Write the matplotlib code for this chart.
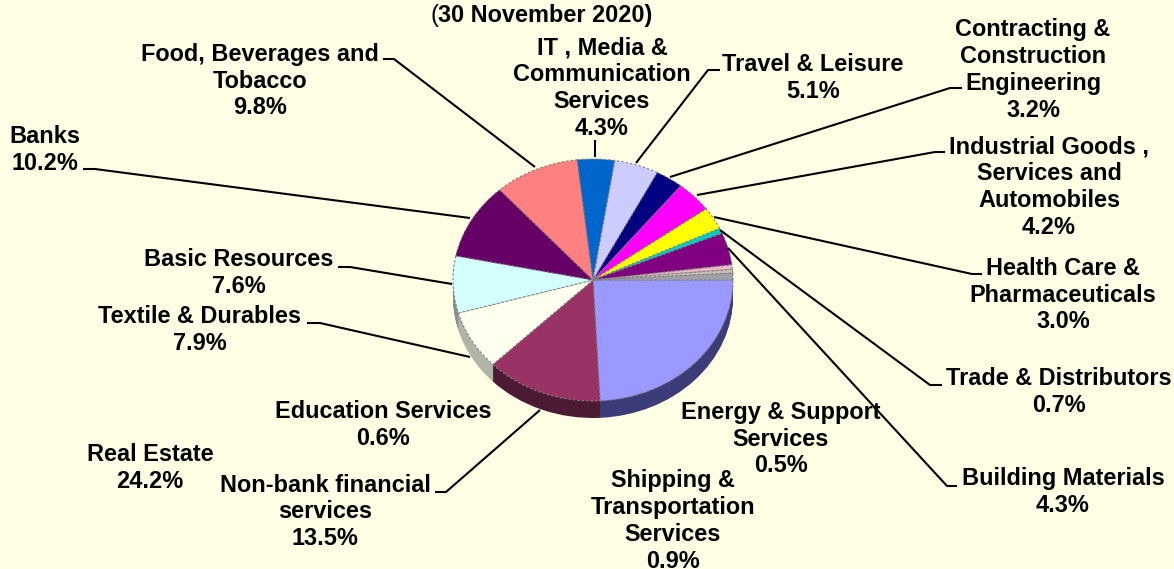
import matplotlib
matplotlib.use("Agg")
import matplotlib.pyplot as plt

sectors = ["Real Estate", "Non-bank financial\nservices", "Textile & Durables", "Basic Resources",
           "Banks", "Food, Beverages and\nTobacco", "IT , Media &\nCommunication\nServices",
           "Travel & Leisure", "Contracting &\nConstruction\nEngineering",
           "Industrial Goods ,\nServices and\nAutomobiles", "Health Care &\nPharmaceuticals",
           "Trade & Distributors", "Building Materials", "Education Services",
           "Energy & Support\nServices", "Shipping &\nTransportation\nServices"]
shares = [24.2, 13.5, 7.9, 7.6, 10.2, 9.8, 4.3, 5.1, 3.2, 4.2, 3.0, 0.7, 4.3, 0.6, 0.5, 0.9]
colors = ["#9999FF", "#993366", "#FFFFF0", "#D4FFFF", "#660066", "#FF8080", "#0066CC", "#CCCCFF",
          "#000080", "#FF00FF", "#FFFF00", "#00CCCC", "#800080", "#E8B8C8", "#C8C0B0", "#A0A0A8"]
side_colors = ["#3C3C78", "#4D1A33", "#B0B5A8", "#8A9090", "#330033", "#804040", "#003366", "#666680",
               "#000040", "#800080", "#808000", "#006666", "#400040", "#745C64", "#646058", "#505054"]
label_x = [150, 325, 200, 239, 45, 260, 602, 813, 1033, 1049, 1063, 1059, 1063, 383, 781, 673]
label_y = [468, 512, 330, 273, 150, 81, 88, 78, 70, 187, 295, 392, 492, 425, 439, 521]
leaders = [
    None,
    [(435, 492), (446, 492), (540, 410)],
    [(307, 323), (320, 323), (470, 357)],
    [(338, 267), (350, 267), (452, 284)],
    [(83, 169), (95, 169), (470, 218)],
    [(383, 59), (394, 59), (535, 167)],
    [(595, 140), (595, 157)],
    [(720, 70), (708, 70), (636, 163)],
    [(962, 88), (950, 88), (670, 177)],
    [(945, 152), (935, 152), (697, 195)],
    [(982, 274), (972, 274), (714, 217)],
    [(942, 385), (930, 385), (720, 230)],
    [(957, 486), (947, 486), (728, 248)],
    None, None, None,
]

W, H = 1174, 569
BG = "#FFFFE6"
CX, CY, RX, RY, DEPTH = 593, 280, 140, 121, 17
plt.rcParams["font.family"] = ["Liberation Sans", "DejaVu Sans"]

fig = plt.figure(figsize=(W / 100, H / 100), dpi=100, facecolor=BG)
pie_ax = fig.add_axes([(CX - RX) / W, 1 - (CY + RY) / H, 2 * RX / W, 2 * RY / H])
for d in range(DEPTH, 0, -1):
    pie_ax.pie(shares, colors=side_colors, startangle=0, counterclock=False, radius=1,
               center=(0, -d / RY), wedgeprops={"linewidth": 0})
pie_ax.pie(shares, colors=colors, startangle=0, counterclock=False, radius=1, center=(0, 0),
           wedgeprops={"linewidth": 0.8, "edgecolor": "#808080", "linestyle": (0, (2, 2))})
pie_ax.set_aspect("auto")
pie_ax.set_xlim(-1, 1)
pie_ax.set_ylim(-1, 1)
for p in pie_ax.patches:
    p.set_clip_on(False)

ov = fig.add_axes([0, 0, 1, 1], facecolor="none")
ov.set_xlim(0, W)
ov.set_ylim(H, 0)
ov.axis("off")
for path in leaders:
    if path:
        ov.plot([p[0] for p in path], [p[1] for p in path], color="black", lw=1.5, solid_capstyle="butt")
for name, share, x, y in zip(sectors, shares, label_x, label_y):
    ov.text(x, y, f"{name}\n{share:.1f}%", ha="center", va="center", fontsize=16.9,
            fontweight="bold", color="black", linespacing=1.21, clip_on=False)
ov.text(438, 15, "(", ha="right", va="center", fontsize=16.9, color="black")
ov.text(438, 15, "30 November 2020)", ha="left", va="center", fontsize=16.9, fontweight="bold", color="black")
fig.savefig("out.png", dpi=100, facecolor=BG)
